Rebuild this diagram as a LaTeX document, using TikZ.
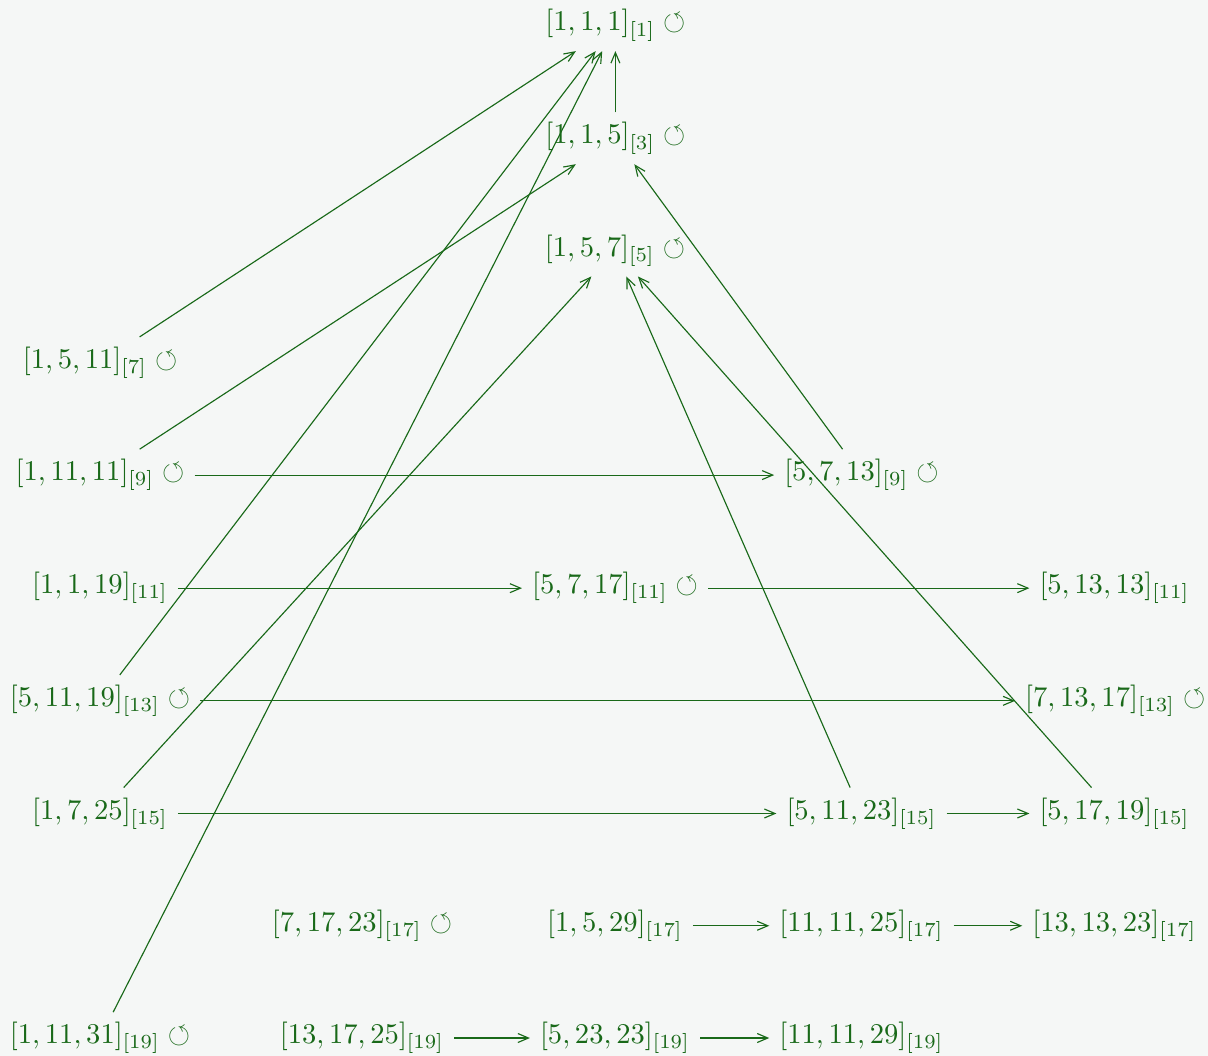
\documentclass[tikz,border=0pt]{standalone}
\usepackage{amsmath,amssymb}
\usepackage{xcolor}
\usetikzlibrary{arrows.meta}
\definecolor{ink}{RGB}{25,105,25}
\definecolor{paper}{RGB}{245,247,246}
\newcommand{\cyc}{\circlearrowleft}

\begin{document}
\begin{tikzpicture}[x=1cm,y=1cm,
  tr/.style={text=ink, inner sep=3.33pt},
  arr/.style={-{Straight Barb[length=1.3mm,width=1.1mm]}, draw=ink}]
\fill[paper] (0,0) rectangle (14.85,-12.98);
\useasboundingbox (0,0) rectangle (14.85,-12.98);
% columns 1.23, 4.45, 7.56, 10.59, 13.70
\node[tr] (n1-1-1)   at (7.565,-0.31)   {$[1,1,1]_{[1]}\cyc$};
\node[tr] (n1-1-5)   at (7.565,-1.70)   {$[1,1,5]_{[3]}\cyc$};
\node[tr] (n1-5-7)   at (7.56,-3.08)   {$[1,5,7]_{[5]}\cyc$};
\node[tr] (n1-5-11)  at (1.23,-4.46)   {$[1,5,11]_{[7]}\cyc$};
\node[tr] (n1-11-11) at (1.23,-5.84)   {$[1,11,11]_{[9]}\cyc$};
\node[tr] (n5-7-13)  at (10.59,-5.84)  {$[5,7,13]_{[9]}\cyc$};
\node[tr] (n1-1-19)  at (1.23,-7.23)   {$[1,1,19]_{[11]}$};
\node[tr] (n5-7-17)  at (7.56,-7.23)   {$[5,7,17]_{[11]}\cyc$};
\node[tr] (n5-13-13) at (13.70,-7.23)  {$[5,13,13]_{[11]}$};
\node[tr] (n5-11-19) at (1.23,-8.615)  {$[5,11,19]_{[13]}\cyc$};
\node[tr] (n7-13-17) at (13.71,-8.615) {$[7,13,17]_{[13]}\cyc$};
\node[tr] (n1-7-25)  at (1.23,-10.00)  {$[1,7,25]_{[15]}$};
\node[tr] (n5-11-23) at (10.59,-10.00) {$[5,11,23]_{[15]}$};
\node[tr] (n5-17-19) at (13.70,-10.00) {$[5,17,19]_{[15]}$};
\node[tr] (n7-17-23) at (4.45,-11.38)  {$[7,17,23]_{[17]}\cyc$};
\node[tr] (n1-5-29)  at (7.56,-11.38)  {$[1,5,29]_{[17]}$};
\node[tr] (n11-11-25) at (10.59,-11.38) {$[11,11,25]_{[17]}$};
\node[tr] (n13-13-23) at (13.70,-11.38) {$[13,13,23]_{[17]}$};
\node[tr] (n1-11-31) at (1.23,-12.76)  {$[1,11,31]_{[19]}\cyc$};
\node[tr] (n13-17-25) at (4.45,-12.76) {$[13,17,25]_{[19]}$};
\node[tr] (n5-23-23) at (7.56,-12.76)  {$[5,23,23]_{[19]}$};
\node[tr] (n11-11-29) at (10.59,-12.76) {$[11,11,29]_{[19]}$};
% up to the fixed points
\draw[arr] (n1-1-5) -- (n1-1-1);
\draw[arr] (n1-5-11) -- (n1-1-1);
\draw[arr] (n5-11-19) -- (n1-1-1);
\draw[arr] (n1-11-31) -- (n1-1-1);
\draw[arr] (n1-11-11) -- (n1-1-5);
\draw[arr] (n5-7-13) -- (n1-1-5);
\draw[arr] (n1-7-25) -- (n1-5-7);
\draw[arr] (n5-11-23) -- (n1-5-7);
\draw[arr] (n5-17-19) -- (n1-5-7);
% along the rows
\draw[arr] (n1-11-11) -- (n5-7-13);
\draw[arr] (n1-1-19) -- (n5-7-17); \draw[arr] (n5-7-17) -- (n5-13-13);
\draw[arr] (n5-11-19) -- (n7-13-17);
\draw[arr] (n1-7-25) -- (n5-11-23); \draw[arr] (n5-11-23) -- (n5-17-19);
\draw[arr] (n1-5-29) -- (n11-11-25); \draw[arr] (n11-11-25) -- (n13-13-23);
\draw[arr] (n13-17-25) -- (n5-23-23); \draw[arr] (n5-23-23) -- (n11-11-29);
\end{tikzpicture}
\end{document}
